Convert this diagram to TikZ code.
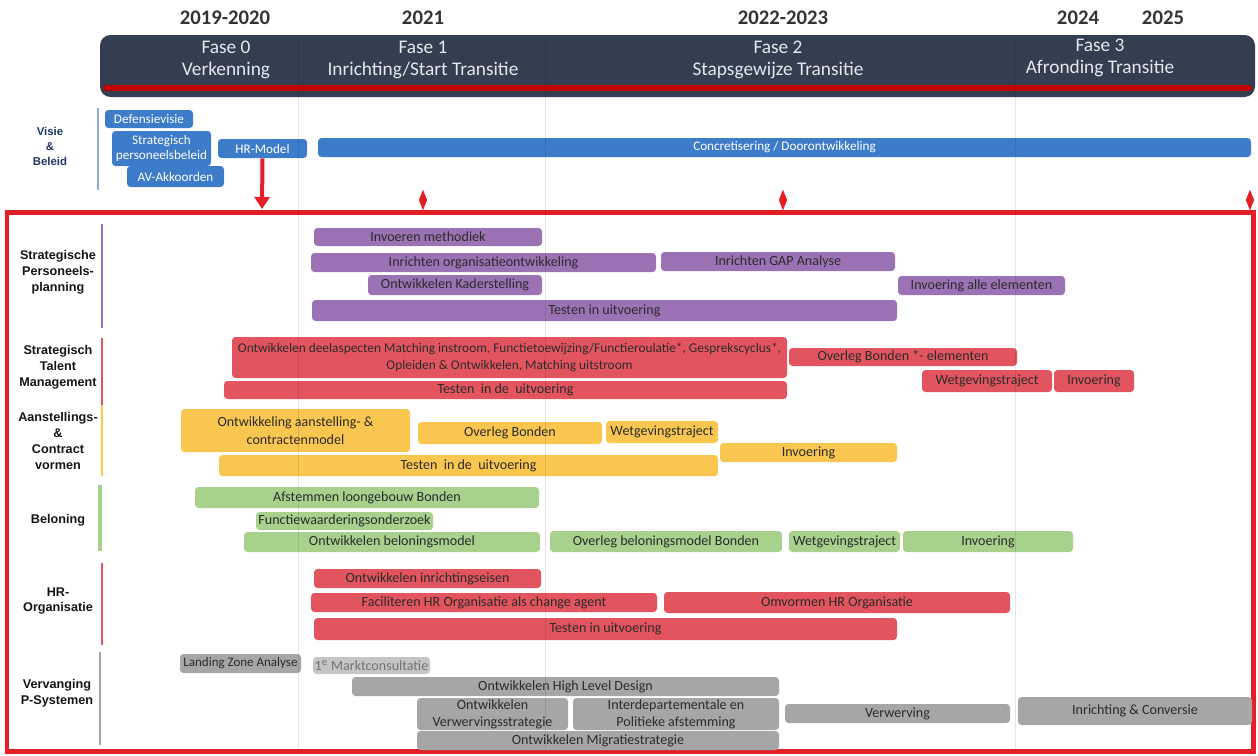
\documentclass[tikz,border=0pt]{standalone}
\usepackage{fontspec}
\setmainfont{Carlito}
\newfontfamily\labelfont{Liberation Sans}
\usetikzlibrary{fit,shapes.geometric,arrows.meta}
\definecolor{navy}{HTML}{333F50}
\definecolor{darkred}{HTML}{C00000}
\definecolor{framered}{HTML}{E31E24}
\definecolor{visieblue}{HTML}{3D7CC9}
\definecolor{visieline}{HTML}{8FAADC}
\definecolor{sppurple}{HTML}{9B72B4}
\definecolor{stmred}{HTML}{E2555F}
\definecolor{acvyellow}{HTML}{F9C74F}
\definecolor{belgreen}{HTML}{A9D18E}
\definecolor{vpsgray}{HTML}{A6A6A6}
\definecolor{bartext}{HTML}{2B2B2B}
\definecolor{labeltext}{HTML}{151515}
\definecolor{visietext}{HTML}{1F3864}
\definecolor{phasetext}{HTML}{E4E7EC}
\definecolor{yeartext}{HTML}{333333}

\begin{document}
\begin{tikzpicture}[
	x=0.02cm, y=-0.02cm,
	bar/.style={rounded corners=2pt, inner sep=0pt},
	txt/.style={align=center, inner sep=0pt, text=bartext, font=\fontsize{8}{9.5}\selectfont},
	wtxt/.style={txt, text=white, font=\fontsize{7.5}{8.5}\selectfont},
	visie/.style={bar, fill=visieblue},
	spp/.style={bar, fill=sppurple},
	stm/.style={bar, fill=stmred},
	acv/.style={bar, fill=acvyellow},
	bel/.style={bar, fill=belgreen},
	hro/.style={bar, fill=stmred},
	vps/.style={bar, fill=vpsgray},
	section/.style={align=center, text=labeltext, font=\labelfont\bfseries\fontsize{7.2}{9}\selectfont},
	phase/.style={align=center, text=phasetext, font=\fontsize{11}{12.8}\selectfont},
	year/.style={text=yeartext, font=\bfseries\fontsize{11.8}{13}\selectfont},
	marker/.style={diamond, fill=framered, inner sep=0pt, minimum width=0.17cm, minimum height=0.42cm},
	sideline/.style={line width=1.3pt}
	]
	\useasboundingbox (0,0) rectangle (1258,755);

	\node[year] (y0) at (225,18) {2019-2020};
	\node[year] (y1) at (423,18) {2021};
	\node[year] (y2) at (783,18) {2022-2023};
	\node[year] (y3) at (1078,18) {2024};
	\node[year] (y4) at (1163,18) {2025};

	\node[fit={(100,35) (1255,97)}, fill=navy, rounded corners=6pt, inner sep=0pt] (header) {};
	\draw[darkred, line width=0.12cm, line cap=round] (106,88) -- (1249,88);
	\node[phase] (fase0) at (226,60) {Fase 0\\Verkenning};
	\node[phase] (fase1) at (423,60) {Fase 1\\Inrichting/Start Transitie};
	\node[phase] (fase2) at (778,60) {Fase 2\\Stapsgewijze Transitie};
	\node[phase] (fase3) at (1100,58) {Fase 3\\Afronding Transitie};

	\node[section, text=visietext, font=\labelfont\bfseries\fontsize{6.5}{8.5}\selectfont] (lblvisie) at (50,146) {Visie\\\&\\Beleid};
	\draw[visieline, sideline] (98,108) -- (98,190);
	\node[visie, fit={(105,110) (193,128)}, label={[wtxt]center:{Defensievisie}}] (defensievisie) {};
	\node[visie, fit={(112,131) (211,166)}, label={[wtxt]center:{Strategisch\\personeelsbeleid}}] (persbeleid) {};
	\node[visie, fit={(127,166) (224,187)}, label={[wtxt]center:{AV-Akkoorden}}] (avakkoorden) {};
	\node[visie, fit={(218,139) (307,158)}, label={[wtxt]center:{HR-Model}}] (hrmodel) {};
	\node[visie, fit={(318,138) (1251,157)}, label={[wtxt]center:{Concretisering / Doorontwikkeling}}] (concretisering) {};

	\draw[framered, line width=0.1cm] (7,212) rectangle (1253,751);
	\coordinate (hrmodelend) at (262,209);
	\draw[framered, line width=0.08cm, -{Triangle[width=0.3cm, length=0.24cm]}] (hrmodel.south) -- (hrmodelend);
	\node[marker] (mark1) at (423,200) {};
	\node[marker] (mark2) at (783,200) {};
	\node[marker] (mark3) at (1250,200) {};

	\node[section] (lblspp) at (58,272) {Strategische\\Personeels-\\planning};
	\draw[sppurple, sideline] (102,224) -- (102,328);
	\node[spp, fit={(314,228) (542,246)}, label={[txt]center:{Invoeren methodiek}}] (methodiek) {};
	\node[spp, fit={(311,253) (656,272)}, label={[txt]center:{Inrichten organisatieontwikkeling}}] (orgontw) {};
	\node[spp, fit={(661,252) (895,271)}, label={[txt]center:{Inrichten GAP Analyse}}] (gapanalyse) {};
	\node[spp, fit={(368,275) (542,295)}, label={[txt]center:{Ontwikkelen Kaderstelling}}] (kaderstelling) {};
	\node[spp, fit={(898,276) (1065,295)}, label={[txt]center:{Invoering alle elementen}}] (allelementen) {};
	\node[spp, fit={(312,300) (897,321)}, label={[txt]center:{Testen in uitvoering}}] (sppTesten) {};

	\node[section] (lblstm) at (58,367) {Strategisch\\Talent\\Management};
	\draw[stmred, sideline] (102,338) -- (102,412);
	\node[stm, fit={(232,337) (787,378)}, label={[txt, font=\fontsize{7.6}{9.3}\selectfont]center:{Ontwikkelen deelaspecten Matching instroom, Functietoewijzing/Functieroulatie*, Gesprekscyclus*,\\Opleiden \& Ontwikkelen, Matching uitstroom}}] (deelaspecten) {};
	\node[stm, fit={(224,381) (787,399)}, label={[txt]center:{Testen \ in de \ uitvoering}}] (stmTesten) {};
	\node[stm, fit={(789,348) (1017,366)}, label={[txt]center:{Overleg Bonden *- elementen}}] (stmOverleg) {};
	\node[stm, fit={(922,370) (1052,392)}, label={[txt]center:{Wetgevingstraject}}] (stmWet) {};
	\node[stm, fit={(1054,370) (1134,392)}, label={[txt]center:{Invoering}}] (stmInvoering) {};

	\node[section] (lblacv) at (58,441) {Aanstellings-\\\&\\Contract\\vormen};
	\draw[acvyellow, sideline] (102,405) -- (102,476);
	\node[acv, fit={(181,409) (410,452)}, label={[txt, font=\fontsize{8}{10.5}\selectfont]center:{Ontwikkeling aanstelling- \&\\contractenmodel}}] (contractmodel) {};
	\node[acv, fit={(418,422) (602,444)}, label={[txt]center:{Overleg Bonden}}] (acvOverleg) {};
	\node[acv, fit={(606,421) (718,443)}, label={[txt]center:{Wetgevingstraject}}] (acvWet) {};
	\node[acv, fit={(720,443) (897,462)}, label={[txt]center:{Invoering}}] (acvInvoering) {};
	\node[acv, fit={(219,455) (718,476)}, label={[txt]center:{Testen \ in de \ uitvoering}}] (acvTesten) {};

	\node[section] (lblbel) at (58,520) {Beloning};
	\draw[belgreen, line width=2.2pt] (100,485) -- (100,551);
	\node[bel, fit={(195,487) (539,508)}, label={[txt]center:{Afstemmen loongebouw Bonden}}] (loongebouw) {};
	\node[bel, fit={(256,512) (433,530)}, label={[txt]center:{Functiewaarderingsonderzoek}}] (functiewaardering) {};
	\node[bel, fit={(244,532) (540,552)}, label={[txt]center:{Ontwikkelen beloningsmodel}}] (beloningsmodel) {};
	\node[bel, fit={(550,531) (782,552)}, label={[txt]center:{Overleg beloningsmodel Bonden}}] (belOverleg) {};
	\node[bel, fit={(789,531) (900,552)}, label={[txt]center:{Wetgevingstraject}}] (belWet) {};
	\node[bel, fit={(903,531) (1073,552)}, label={[txt]center:{Invoering}}] (belInvoering) {};

	\node[section] (lblhro) at (58,601) {HR-\\Organisatie};
	\draw[stmred, sideline] (102,563) -- (102,645);
	\node[hro, fit={(314,569) (541,588)}, label={[txt]center:{Ontwikkelen inrichtingseisen}}] (inrichtingseisen) {};
	\node[hro, fit={(311,593) (657,612)}, label={[txt]center:{Faciliteren HR Organisatie als change agent}}] (changeagent) {};
	\node[hro, fit={(664,592) (1010,613)}, label={[txt]center:{Omvormen HR Organisatie}}] (omvormen) {};
	\node[hro, fit={(314,618) (897,640)}, label={[txt]center:{Testen in uitvoering}}] (hroTesten) {};

	\node[section] (lblvps) at (57,693) {Vervanging\\P-Systemen};
	\draw[vpsgray, sideline] (100,652) -- (100,745);
	\node[vps, fit={(180,654) (301,673)}, label={[txt, font=\fontsize{7.4}{9}\selectfont]center:{Landing Zone Analyse}}] (landingzone) {};
	\node[vps, fill=vpsgray!65, fit={(313,657) (430,674)}, label={[txt, text=black!55]center:{1\textsuperscript{e} Marktconsultatie}}] (marktconsultatie) {};
	\node[vps, fit={(352,677) (779,696)}, label={[txt]center:{Ontwikkelen High Level Design}}] (hld) {};
	\node[vps, fit={(417,698) (568,730)}, label={[txt]center:{Ontwikkelen\\Verwervingsstrategie}}] (verwervingsstrategie) {};
	\node[vps, fit={(573,698) (779,730)}, label={[txt]center:{Interdepartementale en\\Politieke afstemming}}] (afstemming) {};
	\node[vps, fit={(417,731) (779,750)}, label={[txt]center:{Ontwikkelen Migratiestrategie}}] (migratie) {};
	\node[vps, fit={(785,704) (1010,723)}, label={[txt]center:{Verwerving}}] (verwerving) {};
	\node[vps, fit={(1018,697) (1252,725)}, label={[txt]center:{Inrichting \& Conversie}}] (conversie) {};

	\foreach \xdiv in {298,545,1015}
		\draw[black, opacity=0.1, line width=0.4pt] (\xdiv,37) -- (\xdiv,750);
\end{tikzpicture}
\end{document}
